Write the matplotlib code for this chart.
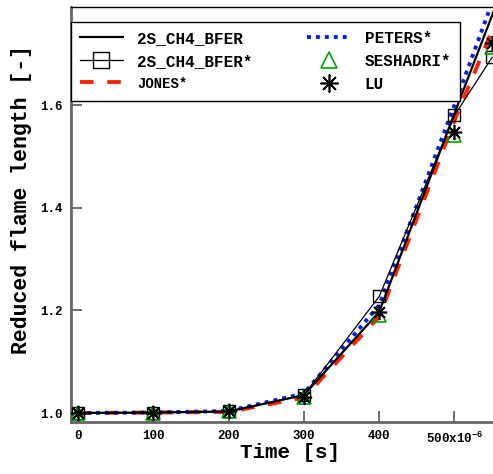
import matplotlib

matplotlib.use("Agg")
import matplotlib.pyplot as plt
from matplotlib.lines import Line2D

# times in microseconds (scaled to seconds on plot)
time_us = [0, 100, 200, 300, 400, 500, 550, 600]
bfer = [1.000, 1.001, 1.003, 1.035, 1.197, 1.584, 1.775, 1.97]
jones = [1.000, 1.001, 1.002, 1.030, 1.188, 1.570, 1.745, 1.93]
peters = [1.000, 1.001, 1.004, 1.038, 1.210, 1.600, 1.800, 2.00]

time_pts_us = [0, 100, 200, 300, 400, 500, 550]
bfer_star = [1.000, 1.001, 1.003, 1.035, 1.227, 1.580, 1.693]
seshadri = [1.000, 1.001, 1.003, 1.031, 1.190, 1.542, 1.713]
lu = [1.000, 1.001, 1.003, 1.031, 1.197, 1.547, 1.720]

xtick_vals = [0, 100, 200, 300, 400, 500]
xtick_labels = ["0", "100", "200", "300", "400", "500x10$^{-6}$"]
ytick_vals = [1.0, 1.2, 1.4, 1.6]

MONO = "Liberation Mono"
plt.rcParams["font.family"] = MONO
plt.rcParams["font.weight"] = "bold"
plt.rcParams["mathtext.fontset"] = "custom"
plt.rcParams["mathtext.rm"] = "Liberation Mono:bold"

W, H = 493, 474
fig = plt.figure(figsize=(W / 100, H / 100), dpi=100)

# axes extends beyond right edge of the figure (reference is cropped)
px_per_s = 75.3 / 100e-6
x_left = -7.0 / px_per_s
x_right = 600e-6 + 20 / px_per_s
ax_left_px, ax_bottom_px, ax_top_px = 71, 422, 7
ax_w_px = (x_right - x_left) * px_per_s
ax_h_px = ax_bottom_px - ax_top_px
ax = fig.add_axes([ax_left_px / W, 1 - ax_bottom_px / H,
                   ax_w_px / W, ax_h_px / H])

t = [v * 1e-6 for v in time_us]
tp = [v * 1e-6 for v in time_pts_us]

ax.plot(t, jones, color="#ff2200", lw=2.8, ls=(0, (3.5, 3.5)), zorder=2)
ax.plot(t, peters, color="#0022dd", lw=2.8, ls=(0, (1, 1.3)), zorder=2)
ax.plot(t, bfer, color="black", lw=1.6, zorder=3)
ax.plot(tp, bfer_star, color="black", lw=0.9, marker="s", ms=9,
        mfc="none", mec="black", mew=1.0, zorder=4)
ax.plot(tp, seshadri, ls="none", marker="^", ms=10, mfc="none",
        mec="#00a000", mew=1.2, zorder=4)
ax.plot(tp, lu, ls="none", marker=(8, 2, 0), ms=11, color="black",
        mew=1.2, zorder=5)

ax.set_xlim(x_left, x_right)
ax.set_ylim(0.9825, 1.791)

ax.set_xticks([v * 1e-6 for v in xtick_vals])
ax.set_xticklabels(xtick_labels)
ax.set_yticks(ytick_vals)
ax.set_yticklabels([f"{v:.1f}" for v in ytick_vals])
ax.tick_params(direction="in", length=8, width=1.2, color="#555555",
               labelsize=9, pad=6)
for lbl in ax.get_xticklabels() + ax.get_yticklabels():
    lbl.set_fontweight("bold")

for side in ("left", "bottom"):
    ax.spines[side].set_color("#666666")
    ax.spines[side].set_linewidth(2)
ax.spines["top"].set_color("black")
ax.spines["top"].set_linewidth(1)
ax.spines["right"].set_visible(False)

ax.set_xlabel("Time [s]", fontsize=15, fontweight="bold")
ax.xaxis.set_label_coords((290 - ax_left_px) / ax_w_px, -0.05)
ax.xaxis.label.set_verticalalignment("top")
ax.set_ylabel("Reduced flame length [-]", fontsize=15.5, fontweight="bold")
ax.yaxis.set_label_coords(-(ax_left_px - 32) / ax_w_px,
                          (ax_bottom_px - 200) / ax_h_px)

handles = [
    Line2D([], [], color="black", lw=1.6),
    Line2D([], [], color="black", lw=0.9, marker="s", ms=11, mfc="none",
           mec="black", mew=1.0),
    Line2D([], [], color="#ff2200", lw=2.8, ls=(0, (3.5, 3.5))),
    Line2D([], [], color="#0022dd", lw=2.8, ls=(0, (1, 1.3))),
    Line2D([], [], ls="none", marker="^", ms=12, mfc="none",
           mec="#00a000", mew=1.2),
    Line2D([], [], ls="none", marker=(8, 2, 0), ms=13, color="black",
           mew=1.2),
]
labels = ["2S_CH4_BFER", "2S_CH4_BFER*", "JONES*", "PETERS*", "SESHADRI*",
          "LU"]
leg = fig.legend(handles, labels, ncol=2, loc="upper left",
                 bbox_to_anchor=(71 / W, 1 - 22 / H),
                 bbox_transform=fig.transFigure, borderaxespad=0,
                 fancybox=False, framealpha=1, edgecolor="black",
                 prop={"family": MONO, "weight": "bold", "size": 11.5},
                 handlelength=2.7, handletextpad=0.9, columnspacing=3.4,
                 labelspacing=0.5, borderpad=0.55)
leg.get_frame().set_linewidth(1.0)
leg.texts[2].set_fontsize(10)

fig.savefig("out.png", dpi=100)
